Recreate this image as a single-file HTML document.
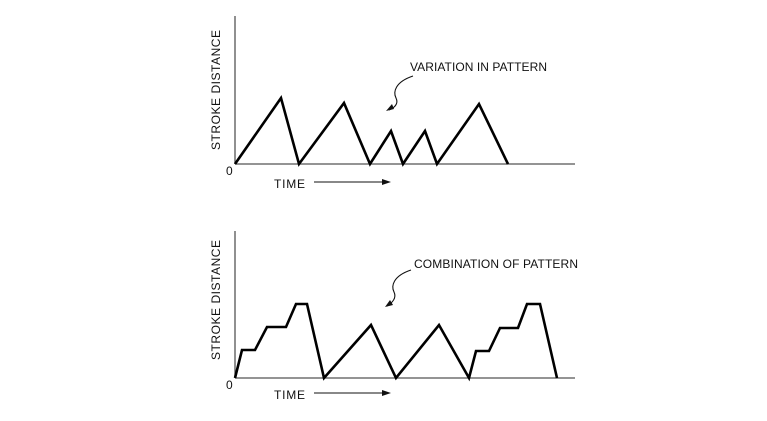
<!DOCTYPE html>
<html><head><style>body{margin:0;background:#fff}svg{display:block}text{font-family:"Liberation Sans",sans-serif;font-size:12px;fill:#111}</style></head><body>
<svg width="767" height="421" viewBox="0 0 767 421">
<g stroke="#555" stroke-width="1.3" fill="none">
<line x1="235" y1="16" x2="235" y2="164"/><line x1="235" y1="164" x2="575" y2="164"/>
<line x1="235" y1="231" x2="235" y2="378"/><line x1="235" y1="378" x2="575" y2="378"/>
</g>
<g stroke="#000" stroke-width="2.6" fill="none" stroke-linejoin="miter">
<polyline points="235,164 281,98 299,164 344,103 370,164 391,131 403,164 425,131 437,164 479,104 508,164"/>
<polyline points="235,378 242,350 255,350 267,327 286,327 296,304 307,304 324,378 371,325 396,378 439,325 469,378 476,351 489,351 500,328 518,328 527,304 540,304 557,378"/>
</g>
<g stroke="#111" stroke-width="1.1" fill="none">
<path d="M413,76 C395,82 393,92 396,98 C399,104 394,108 389,110"/>
<path d="M411,270 C393,276 391,286 394,292 C397,298 392,303 387,306"/>
<line x1="314" y1="182" x2="384" y2="182"/><line x1="314" y1="393" x2="384" y2="393"/>
</g>
<g fill="#111">
<polygon points="386,111 392,104 394,109"/><polygon points="385,307 390,300 393,305"/>
<polygon points="391,182 382,179 382,185"/><polygon points="391,393 382,390 382,396"/>
</g>
<text x="410" y="71" textLength="137">VARIATION IN PATTERN</text>
<text x="414" y="268" textLength="164">COMBINATION OF PATTERN</text>
<text x="274" y="188" textLength="31">TIME</text><text x="274" y="399" textLength="31">TIME</text>
<text x="226" y="175">0</text><text x="226" y="389">0</text>
<text transform="translate(220,90) rotate(-90)" text-anchor="middle" textLength="120">STROKE DISTANCE</text>
<text transform="translate(220,300) rotate(-90)" text-anchor="middle" textLength="120">STROKE DISTANCE</text>
</svg>
</body></html>
